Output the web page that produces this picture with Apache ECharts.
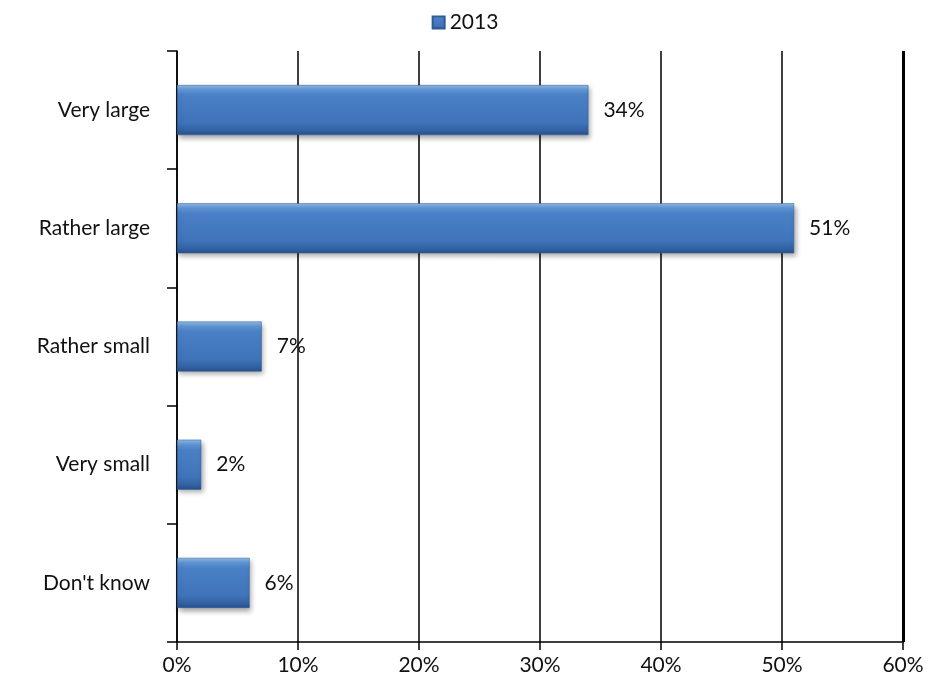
<!DOCTYPE html>
<html>
<head>
<meta charset="utf-8">
<script src="https://cdn.jsdelivr.net/npm/echarts@6/dist/echarts.min.js"></script>
<style>
  html, body { margin: 0; padding: 0; background: #fff; }
  #chart { width: 930px; height: 692px; }
</style>
</head>
<body>
<div id="chart"></div>
<script>
// Survey answers and their shares (%) for 2013
const categories = ['Very large', 'Rather large', 'Rather small', 'Very small', "Don't know"];
const values2013 = [34, 51, 7, 2, 6];
const seriesName = '2013';

const FONT = 'Lato, "Open Sans", sans-serif';

// Bevelled blue fill for the bars
const barFill = new echarts.graphic.LinearGradient(0, 0, 0, 1, [
  { offset: 0, color: '#8fbbe8' },
  { offset: 0.1, color: '#5f95d4' },
  { offset: 0.2, color: '#4a80c6' },
  { offset: 0.75, color: '#3f74ba' },
  { offset: 0.9, color: '#3462a4' },
  { offset: 1, color: '#28508c' }
]);

const chart = echarts.init(document.getElementById('chart'), null, { renderer: 'canvas' });

chart.setOption({
  animation: false,
  backgroundColor: '#ffffff',
  legend: {
    top: 7,
    left: 'center',
    itemWidth: 12,
    itemHeight: 12,
    itemGap: 4,
    icon: 'rect',
    textStyle: { fontFamily: FONT, fontSize: 21, color: '#111' },
    data: [seriesName]
  },
  grid: { left: 177, right: 27, top: 51, bottom: 50, containLabel: false },
  xAxis: {
    type: 'value',
    min: 0,
    max: 60,
    interval: 10,
    axisLine: { show: true, lineStyle: { color: '#000', width: 1.5 } },
    axisTick: { show: true, length: 8, lineStyle: { color: '#000', width: 1.5 } },
    axisLabel: {
      formatter: '{value}%',
      margin: 13,
      fontFamily: FONT,
      fontSize: 21,
      color: '#111'
    },
    splitLine: { show: true, lineStyle: { color: '#000', width: 1.5 } }
  },
  yAxis: {
    type: 'category',
    data: categories,
    inverse: true,
    boundaryGap: true,
    axisLine: { show: true, lineStyle: { color: '#000', width: 1.5 } },
    axisTick: { show: true, length: 10, alignWithLabel: false, lineStyle: { color: '#000', width: 1.5 } },
    axisLabel: {
      margin: 27,
      fontFamily: FONT,
      fontSize: 21,
      color: '#111'
    }
  },
  series: [{
    name: seriesName,
    type: 'bar',
    data: values2013,
    barWidth: 50,
    itemStyle: {
      color: barFill,
      borderColor: '#2f5a96',
      borderWidth: 0.5,
      shadowColor: 'rgba(0,0,0,0.35)',
      shadowBlur: 5,
      shadowOffsetX: 2,
      shadowOffsetY: 3
    },
    label: {
      show: true,
      position: 'right',
      distance: 15,
      formatter: '{c}%',
      fontFamily: FONT,
      fontSize: 21,
      color: '#111'
    },
    markLine: {
      silent: true,
      symbol: 'none',
      label: { show: false },
      lineStyle: { color: '#000', width: 3, type: 'solid' },
      data: [{ xAxis: 60 }]
    }
  }]
});
</script>
</body>
</html>
